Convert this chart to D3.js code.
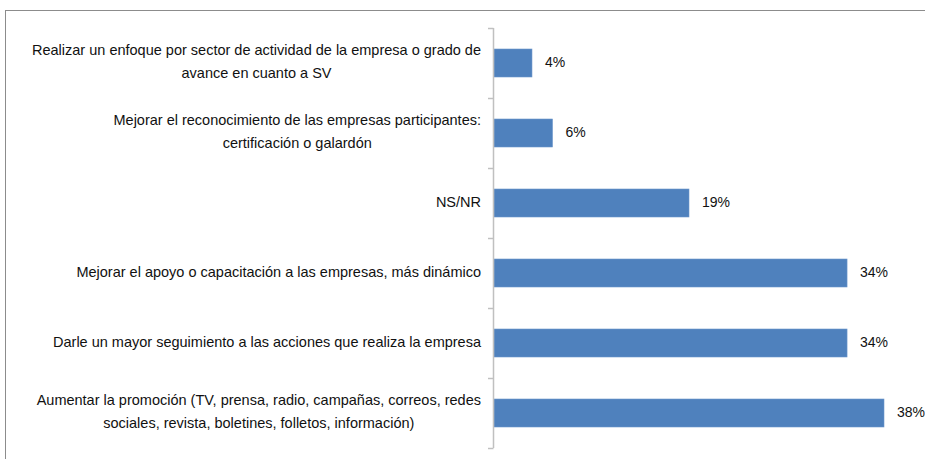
<!DOCTYPE html>
<html><head><meta charset="utf-8">
<script src="https://cdn.jsdelivr.net/npm/d3@7"></script>
<style>body{margin:0;background:#fff}</style>
</head><body>
<svg id="c" width="925" height="459"></svg>
<script>
const categories = [
  ["Realizar un enfoque por sector de actividad de la empresa o grado de", "avance en cuanto a SV"],
  ["Mejorar el reconocimiento de las empresas participantes:", "certificación o galardón"],
  ["NS/NR"],
  ["Mejorar el apoyo o capacitación a las empresas, más dinámico"],
  ["Darle un mayor seguimiento a las acciones que realiza la empresa"],
  ["Aumentar la promoción (TV, prensa, radio, campañas, correos, redes", "sociales, revista, boletines, folletos, información)"]
];
const values = [3.7, 5.7, 19.0, 34.4, 34.4, 38.0];
const valueLabels = ["4%", "6%", "19%", "34%", "34%", "38%"];

const svg = d3.select("#c");
const font = "'Liberation Sans', Arial, sans-serif";

svg.append("rect").attr("x", 5.5).attr("y", 10.5).attr("width", 960).attr("height", 470)
  .attr("fill", "none").attr("stroke", "#8c8c8c").attr("stroke-width", 1);

const x0 = 493, yTop = 28, yBot = 448;
const y = d3.scaleBand().domain(d3.range(categories.length)).range([yTop, yBot]).paddingInner(0.6).paddingOuter(0.3);
const x = d3.scaleLinear().domain([0, 38]).range([x0 + 1, 884]);

// bars
svg.selectAll("rect.bar").data(values).enter().append("rect")
  .attr("class", "bar")
  .attr("x", x(0)).attr("y", (d, i) => y(i))
  .attr("width", d => x(d) - x(0)).attr("height", y.bandwidth())
  .attr("fill", "#4f81bd").attr("stroke", "#6d97cb").attr("stroke-width", 0.6);

// axis
const band = (yBot - yTop) / categories.length;
const axisG = svg.append("g");
axisG.append("line").attr("x1", x0 + 0.5).attr("x2", x0 + 0.5).attr("y1", yTop).attr("y2", yBot)
  .attr("stroke", "#c0c0c0").attr("stroke-width", 1.5);
d3.range(categories.length + 1).forEach(i => {
  const yy = Math.round(yTop + i * band) + 0.5;
  axisG.append("line").attr("x1", x0 - 5).attr("x2", x0 + 0.5).attr("y1", yy).attr("y2", yy)
    .attr("stroke", "#c0c0c0").attr("stroke-width", 1.5);
});

// category labels
const labelRight = 481;
const lineH = 23;
categories.forEach((lines, i) => {
  const cy = y(i) + y.bandwidth() / 2;
  const g = svg.append("g");
  const texts = lines.map((l, j) => g.append("text")
    .attr("font-family", font).attr("font-size", 14.5).attr("fill", "#111")
    .attr("dominant-baseline", "middle")
    .attr("y", cy + (j - (lines.length - 1) / 2) * lineH)
    .text(l));
  const maxW = d3.max(texts, t => t.node().getComputedTextLength());
  texts.forEach(t => t.attr("text-anchor", "middle").attr("x", labelRight - maxW / 2));
});

// value labels
svg.selectAll("text.val").data(values).enter().append("text")
  .attr("class", "val")
  .attr("x", d => x(d) + 13).attr("y", (d, i) => y(i) + y.bandwidth() / 2)
  .attr("dominant-baseline", "middle")
  .attr("font-family", font).attr("font-size", 14).attr("fill", "#111")
  .text((d, i) => valueLabels[i]);
</script>
</body></html>
